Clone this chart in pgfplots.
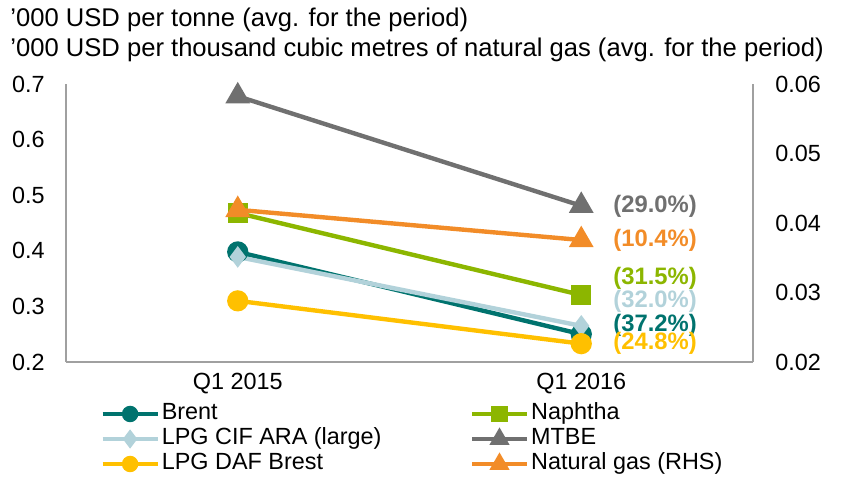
\documentclass[border=0pt]{standalone}
\usepackage{pgfplots}
\pgfplotsset{compat=1.18}
\usepackage{fontspec}
\setmainfont{Liberation Sans}
\definecolor{brent}{RGB}{0,115,110}
\definecolor{naphtha}{RGB}{140,182,0}
\definecolor{lpgcif}{RGB}{178,210,218}
\definecolor{mtbe}{RGB}{112,112,112}
\definecolor{lpgdaf}{RGB}{255,192,0}
\definecolor{natgas}{RGB}{242,140,40}
\definecolor{axisgray}{RGB}{160,160,160}
\pgfplotsset{
  sBrent/.style={color=brent, line width=2.2pt, mark=*, mark size=4.2pt, mark options={solid}},
  sNaph/.style={color=naphtha, line width=2.2pt, mark=square*, mark size=4pt, mark options={solid}},
  sCif/.style={color=lpgcif, line width=2.2pt, mark=diamond*, mark size=3.6pt, mark options={solid}},
  sMtbe/.style={color=mtbe, line width=2.2pt, mark=triangle*, mark size=5pt, mark options={solid}},
  sDaf/.style={color=lpgdaf, line width=2.2pt, mark=*, mark size=4.2pt, mark options={solid}},
  sNat/.style={color=natgas, line width=2.2pt, mark=triangle*, mark size=5pt, mark options={solid}},
  common/.style={at={(0,0)}, anchor=south west, scale only axis,
    width=343.5pt, height=139pt, xmin=-0.5, xmax=1.5, clip=false,
    tick style={draw=none}, major tick length=0pt,
    axis line style={draw=axisgray, line width=0.9pt},
    /pgf/number format/assume math mode=true,
    scaled y ticks=false,
    tick label style={font=\fontsize{11.7}{14}\selectfont}},
}
\pgfplotstableread{
x brent naph cif mtbe daf
0 0.398 0.468 0.389 0.678 0.310
1 0.250 0.3205 0.265 0.481 0.233
}\prodtable
\pgfplotstableread{
x gas
0 0.0419
1 0.03755
}\gastable
\begin{document}
\begin{tikzpicture}[font=\fontsize{11.7}{14}\selectfont]
\path[use as bounding box] (-33pt,-58.5pt) rectangle (393.5pt,181pt);
\node[anchor=west, inner sep=0pt, font=\fontsize{12.8}{15}\selectfont] at (-28pt,171pt) {’000 USD per tonne (avg. for the period)};
\node[anchor=west, inner sep=0pt, font=\fontsize{12.8}{15}\selectfont] at (-28pt,156pt) {’000 USD per thousand cubic metres of natural gas (avg. for the period)};
\begin{axis}[common,
  axis x line*=bottom, axis y line*=left,
  xtick={0,1}, xticklabels={Q1 2015, Q1 2016},
  xticklabel style={inner sep=0pt, anchor=north, yshift=-5.5pt},
  ymin=0.2, ymax=0.7, ytick={0.2,0.3,0.4,0.5,0.6,0.7},
  yticklabel style={/pgf/number format/fixed, /pgf/number format/fixed zerofill,
    /pgf/number format/precision=1, inner sep=0pt, anchor=east, xshift=-10.5pt},
]
\addplot[sBrent] table[x=x,y=brent]{\prodtable};
\addplot[sNaph] table[x=x,y=naph]{\prodtable};
\addplot[sCif] table[x=x,y=cif]{\prodtable};
\addplot[sMtbe] table[x=x,y=mtbe]{\prodtable};
\addplot[sDaf] table[x=x,y=daf]{\prodtable};
\tikzset{pl/.style={anchor=west, inner sep=0pt, font=\fontsize{11.9}{14}\selectfont\bfseries}}
\node[pl, text=mtbe] at (axis cs:1.0925,0.4806) {(29.0\%)};
\node[pl, text=natgas] at (axis cs:1.0925,0.4194) {(10.4\%)};
\node[pl, text=naphtha] at (axis cs:1.0925,0.3511) {(31.5\%)};
\node[pl, text=lpgcif] at (axis cs:1.0925,0.3097) {(32.0\%)};
\node[pl, text=brent] at (axis cs:1.0925,0.2665) {(37.2\%)};
\node[pl, text=lpgdaf] at (axis cs:1.0925,0.2342) {(24.8\%)};
\end{axis}
\begin{axis}[common,
  axis x line=none, axis y line*=right,
  ymin=0.02, ymax=0.06, ytick={0.02,0.03,0.04,0.05,0.06},
  yticklabel style={/pgf/number format/fixed, /pgf/number format/fixed zerofill,
    /pgf/number format/precision=2, inner sep=0pt, anchor=west, xshift=11pt},
  legend columns=2, legend cell align=left,
  legend image code/.code={\draw[mark repeat=2,mark phase=2,#1] plot coordinates {(0pt,0pt) (13.75pt,0pt) (27.5pt,0pt)};},
  legend style={at={(0.0495,-0.146)}, anchor=north west, draw=none, fill=none,
    inner sep=0pt, row sep=1.5pt, font=\fontsize{11.7}{14}\selectfont,
    nodes={inner sep=0pt, text height=8.4pt, text depth=2.6pt},
    /tikz/every odd column/.append style={column sep=1pt}},
]
\addplot[sNat, forget plot] table[x=x,y=gas]{\gastable};
\addlegendimage{sBrent, mark size=3pt}
\addlegendentry{\makebox[154pt][l]{Brent}}
\addlegendimage{sNaph, mark size=3pt}
\addlegendentry{Naphtha}
\addlegendimage{sCif, mark size=3pt}
\addlegendentry{\makebox[154pt][l]{LPG CIF ARA (large)}}
\addlegendimage{sMtbe, mark size=3.6pt}
\addlegendentry{MTBE}
\addlegendimage{sDaf, mark size=3pt}
\addlegendentry{\makebox[154pt][l]{LPG DAF Brest}}
\addlegendimage{sNat, mark size=3.6pt}
\addlegendentry{Natural gas (RHS)}
\end{axis}
\end{tikzpicture}
\end{document}
